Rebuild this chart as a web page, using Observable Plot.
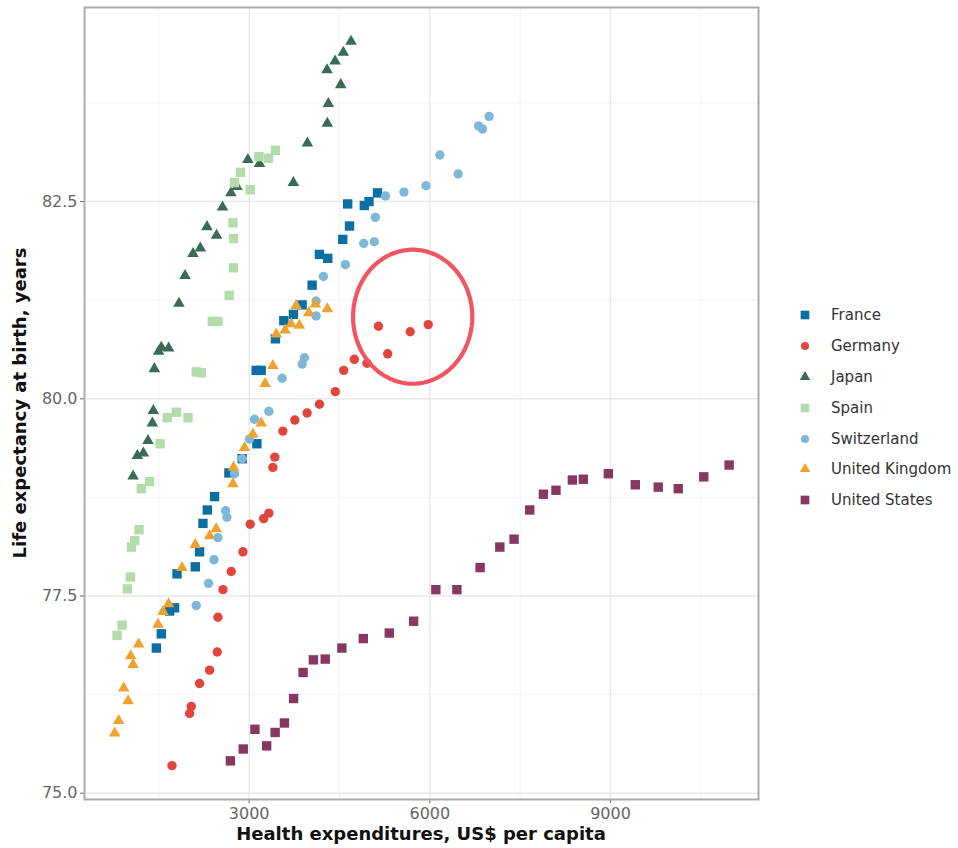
<!DOCTYPE html>
<html>
<head>
<meta charset="utf-8">
<script src="https://cdn.jsdelivr.net/npm/d3@7"></script>
<script src="https://cdn.jsdelivr.net/npm/@observablehq/plot@0.6"></script>
<style>
  html, body { margin: 0; padding: 0; background: #fff; }
  #wrap { position: relative; width: 958px; height: 848px; font-family: "DejaVu Sans", sans-serif; }
  #wrap svg.chart { position: absolute; left: 0; top: 0; }
  .ttl { position: absolute; font-weight: bold; font-size: 18px; color: #111; white-space: nowrap; line-height: 1; }
  #xt { left: 421px; top: 834px; transform: translate(-50%, -50%); }
  #yt { left: 20px; top: 403px; transform: translate(-50%, -50%) rotate(-90deg); }
  #legend { position: absolute; left: 797px; top: 300px; }
  .li { display: flex; align-items: center; height: 30.8px; font-size: 15px; color: #333; }
  .li svg { width: 16px; height: 16px; margin-right: 18px; }
</style>
</head>
<body>
<div id="wrap"></div>
<script>
// ---- data ----
const countries = ["France", "Germany", "Japan", "Spain", "Switzerland", "United Kingdom", "United States"];
const colors = ["#0B6FA4", "#E1463E", "#3A6B55", "#B4DCAA", "#7DB9D7", "#F0A22E", "#873760"];
const shapes = ["square", "circle", "triangle", "square", "circle", "triangle", "square"];

const franceSpend = [1458,1541,1679,1761,1801,2105,2176,2232,2304,2425,2663,2884,3128,3116,3199,3436,3575,3734,3879,4045,4166,4305,4554,4666,4636,4912,4990,5131];
const franceLife  = [76.84,77.02,77.31,77.35,77.78,77.87,78.06,78.42,78.59,78.76,79.06,79.24,79.43,80.36,80.36,80.76,80.99,81.07,81.19,81.44,81.83,81.78,82.02,82.19,82.47,82.45,82.50,82.61];

const germanySpend = [1718,2010,2038,2176,2342,2469,2481,2564,2702,2896,3017,3240,3327,3393,3426,3559,3758,3962,4166,4430,4570,4746,4956,5147,5300,5674,5973];
const germanyLife  = [75.35,76.01,76.10,76.39,76.56,76.79,77.23,77.58,77.81,78.06,78.41,78.48,78.55,79.13,79.26,79.59,79.73,79.82,79.93,80.09,80.36,80.50,80.45,80.92,80.57,80.85,80.94];

const japanSpend = [1072,1143,1243,1320,1392,1408,1425,1496,1541,1662,1834,1934,2067,2188,2458,2299,2557,2697,2796,2978,3171,3734,3967,4298,4315,4520,4293,4426,4563,4691];
const japanLife  = [79.02,79.28,79.31,79.47,79.69,79.85,80.38,80.60,80.65,80.64,81.21,81.56,81.84,81.91,82.07,82.18,82.43,82.61,82.69,83.03,82.98,82.74,83.24,83.49,83.74,83.98,84.17,84.28,84.39,84.53];

const spainSpend = [806,889,977,1027,1044,1098,1171,1209,1347,1519,1640,1790,1984,2121,2204,2387,2481,2668,2740,2740,2730,3017,2756,2856,3161,3320,3436];
const spainLife  = [77.00,77.13,77.59,77.74,78.12,78.20,78.34,78.86,78.95,79.43,79.76,79.83,79.76,80.34,80.33,80.98,80.98,81.31,81.66,82.03,82.23,82.65,82.74,82.87,83.07,83.05,83.15];

const swissSpend = [2121,2325,2415,2481,2607,2630,2756,2884,3005,3088,3327,3547,3879,3917,4111,4111,4232,4597,4902,5077,5094,5263,5570,5935,6167,6470,6808,6875,6984];
const swissLife  = [77.38,77.66,77.96,78.24,78.58,78.50,79.05,79.24,79.49,79.74,79.84,80.26,80.44,80.52,81.05,81.24,81.55,81.70,81.97,81.99,82.30,82.57,82.62,82.70,83.09,82.85,83.46,83.42,83.58];

const ukSpend = [767,833,916,989,1032,1072,1165,1486,1569,1662,1884,2105,2342,2453,2730,2740,2922,3061,3199,3265,3393,3448,3597,3696,3834,3779,3990,4099,4298];
const ukLife  = [75.76,75.92,76.33,76.17,76.74,76.63,76.89,77.14,77.30,77.40,77.86,78.15,78.26,78.35,78.92,79.13,79.38,79.55,79.69,80.19,80.42,80.82,80.87,80.95,80.93,81.18,81.09,81.20,81.14];

const usSpend = [2688,2901,3095,3290,3431,3585,3738,3895,4066,4263,4539,4895,5326,5731,6100,6449,6835,7162,7399,7659,7886,8095,8367,8549,8964,9412,9793,10125,10549,10970];
const usLife  = [75.41,75.56,75.81,75.60,75.77,75.89,76.20,76.53,76.69,76.70,76.84,76.96,77.03,77.18,77.58,77.58,77.86,78.12,78.22,78.59,78.79,78.84,78.97,78.98,79.05,78.91,78.88,78.86,79.01,79.16];

const xTicks = [3000, 6000, 9000];
const xMinor = [1500, 4500, 7500, 10500];
const yTicks = [75, 77.5, 80, 82.5];
const yMinor = [76.25, 78.75, 81.25, 83.75];

const xLabel = "Health expenditures, US$ per capita";
const yLabel = "Life expectancy at birth, years";

// highlight annotation (circled German points): centre and radii in data units
const highlightCenter = [5715, 81.04];
const highlightRadius = [990, 0.85];

// ---- build table ----
const spendByCountry = [franceSpend, germanySpend, japanSpend, spainSpend, swissSpend, ukSpend, usSpend];
const lifeByCountry = [franceLife, germanyLife, japanLife, spainLife, swissLife, ukLife, usLife];
const rows = countries.flatMap((c, i) =>
  spendByCountry[i].map((s, j) => ({country: c, spend: s, life: lifeByCountry[i][j]})));

const ellipse = d3.range(0, 360, 4).map(a => ({
  x: highlightCenter[0] + highlightRadius[0] * Math.cos(a * Math.PI / 180),
  y: highlightCenter[1] + highlightRadius[1] * Math.sin(a * Math.PI / 180)
}));

const rByShape = {square: 5.3, circle: 4.7, triangle: 4.3};

const chart = Plot.plot({
  width: 958,
  height: 848,
  marginLeft: 84,
  marginRight: 200,
  marginTop: 7,
  marginBottom: 49,
  style: {fontFamily: "DejaVu Sans, sans-serif", fontSize: "16px", color: "#666", background: "#fff"},
  x: {domain: [265, 11458], ticks: xTicks, tickFormat: d3.format("d"), tickSize: 4, tickPadding: 4, label: null},
  y: {domain: [74.92, 84.96], ticks: yTicks, tickFormat: d3.format(".1f"), tickSize: 4, tickPadding: 3, label: null},
  color: {domain: countries, range: colors},
  marks: [
    Plot.ruleX(xMinor, {stroke: "#f3f3f3", strokeWidth: 1}),
    Plot.ruleY(yMinor, {stroke: "#f3f3f3", strokeWidth: 1}),
    Plot.ruleX(xTicks, {stroke: "#e9e9e9", strokeWidth: 1.4}),
    Plot.ruleY(yTicks, {stroke: "#e9e9e9", strokeWidth: 1.4}),
    ...countries.map((c, i) => Plot.dot(rows.filter(d => d.country === c), {
      x: "spend", y: "life", fill: "country", symbol: () => shapes[i], r: rByShape[shapes[i]]
    })),
    Plot.line(ellipse, {x: "x", y: "y", curve: "linear-closed", stroke: "#F25560", strokeWidth: 4.2}),
    Plot.frame({stroke: "#ababab", strokeWidth: 2})
  ],
  symbol: {type: "identity"}
});
chart.classList.add("chart");

const wrap = document.getElementById("wrap");
wrap.appendChild(chart);

const xt = document.createElement("div");
xt.className = "ttl"; xt.id = "xt"; xt.textContent = xLabel;
wrap.appendChild(xt);
const yt = document.createElement("div");
yt.className = "ttl"; yt.id = "yt"; yt.textContent = yLabel;
wrap.appendChild(yt);

// legend
const legend = document.createElement("div");
legend.id = "legend";
const legendSize = {square: 75, circle: 52, triangle: 48};
const symType = {square: d3.symbolSquare, circle: d3.symbolCircle, triangle: d3.symbolTriangle};
countries.forEach((c, i) => {
  const item = document.createElement("div");
  item.className = "li";
  const path = d3.symbol(symType[shapes[i]], legendSize[shapes[i]])();
  item.innerHTML = `<svg viewBox="-8 -8 16 16"><path d="${path}" fill="${colors[i]}"></path></svg><span>${c}</span>`;
  legend.appendChild(item);
});
wrap.appendChild(legend);
</script>
</body>
</html>
